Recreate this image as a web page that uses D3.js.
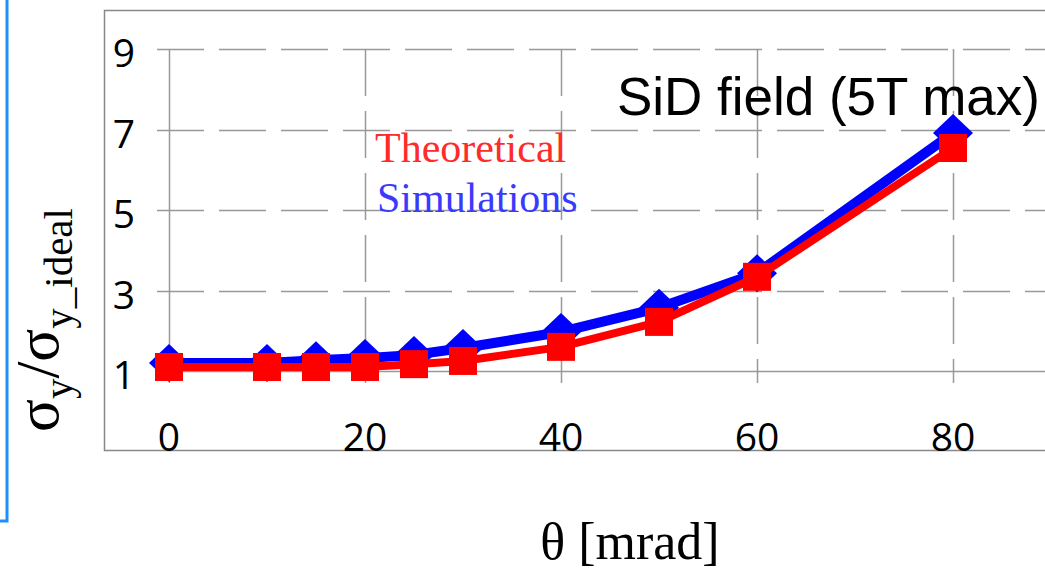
<!DOCTYPE html>
<html>
<head>
<meta charset="utf-8">
<script src="https://cdn.jsdelivr.net/npm/d3@7"></script>
<style>
  body { margin: 0; background: #fff; }
  svg { display: block; }
</style>
</head>
<body>
<div id="plot"></div>
<script>
// data
const theta = [0, 10, 15, 20, 25, 30, 40, 50, 60, 80];
const simulations = [1.2, 1.2, 1.27, 1.32, 1.4, 1.57, 1.97, 2.57, 3.43, 6.91];
const theoretical = [1.1, 1.1, 1.1, 1.1, 1.17, 1.25, 1.6, 2.22, 3.34, 6.54];
const xTicks = [0, 20, 40, 60, 80];
const yTicks = [1, 3, 5, 7, 9];

const width = 1045, height = 572;

const x = d3.scaleLinear().domain([0, 80]).range([169, 953]);
const y = d3.scaleLinear().domain([1, 9]).range([371, 49]);

const svg = d3.select("#plot").append("svg")
  .attr("width", width)
  .attr("height", height)
  .attr("viewBox", [0, 0, width, height]);

// blue slide border on the left
svg.append("path")
  .attr("d", "M7,0 V521 H0")
  .attr("fill", "none")
  .attr("stroke", "#1e8fff")
  .attr("stroke-width", 3);

// plot frame
svg.append("path")
  .attr("d", "M1046,10.5 H104.5 V450.5 H1046")
  .attr("fill", "none")
  .attr("stroke", "#888")
  .attr("stroke-width", 1.5);

const grid = svg.append("g").attr("stroke", "#999").attr("stroke-width", 1.5);

// horizontal grid lines (y = 1 is the solid axis line)
grid.selectAll(".hgrid")
  .data(yTicks)
  .join("line")
  .attr("x1", 157)
  .attr("x2", width)
  .attr("y1", d => Math.round(y(d)) + 0.5)
  .attr("y2", d => Math.round(y(d)) + 0.5)
  .attr("stroke-dasharray", d => d === 1 ? null : "47,15");

// vertical grid lines
grid.selectAll(".vgrid")
  .data(xTicks)
  .join("line")
  .attr("x1", d => Math.round(x(d)) + 0.5)
  .attr("x2", d => Math.round(x(d)) + 0.5)
  .attr("y1", y(9))
  .attr("y2", y(1))
  .attr("stroke-dasharray", d => d === 0 ? null : "47,15");

// tick marks below the axis line
grid.selectAll(".xtick")
  .data(xTicks)
  .join("line")
  .attr("x1", d => Math.round(x(d)) + 0.5)
  .attr("x2", d => Math.round(x(d)) + 0.5)
  .attr("y1", y(1))
  .attr("y2", y(1) + 12);

// tick labels
svg.append("g")
  .attr("font-family", "'Open Sans', sans-serif")
  .attr("font-size", 39)
  .attr("text-anchor", "end")
  .selectAll("text")
  .data(yTicks)
  .join("text")
  .attr("x", 135)
  .attr("y", d => y(d) + 18)
  .text(d => d);

svg.append("g")
  .attr("font-family", "'Open Sans', sans-serif")
  .attr("font-size", 39)
  .attr("text-anchor", "middle")
  .selectAll("text")
  .data(xTicks)
  .join("text")
  .attr("x", d => x(d))
  .attr("y", 451)
  .text(d => d);

// series
const line = d3.line()
  .x((d, i) => x(theta[i]))
  .y(d => y(d));

svg.append("path")
  .attr("d", line(simulations))
  .attr("fill", "none")
  .attr("stroke", "#0000ff")
  .attr("stroke-width", 10)
  .attr("stroke-linejoin", "round");

svg.append("g")
  .selectAll("path")
  .data(simulations)
  .join("path")
  .attr("transform", (d, i) => `translate(${x(theta[i])},${y(d)})`)
  .attr("d", "M0,-19 L20,0 L0,19 L-20,0 Z")
  .attr("fill", "#0000ff");

svg.append("path")
  .attr("d", line(theoretical))
  .attr("fill", "none")
  .attr("stroke", "#ff0000")
  .attr("stroke-width", 8)
  .attr("stroke-linejoin", "round");

svg.append("g")
  .selectAll("rect")
  .data(theoretical)
  .join("rect")
  .attr("x", (d, i) => x(theta[i]) - 14)
  .attr("y", d => y(d) - 14)
  .attr("width", 28)
  .attr("height", 28)
  .attr("fill", "#ff0000");

// legend text and title
svg.append("text")
  .attr("x", 375)
  .attr("y", 162)
  .attr("font-family", "'Liberation Serif', 'Times New Roman', serif")
  .attr("font-size", 42)
  .attr("fill", "#ff2a2a")
  .text("Theoretical");

svg.append("text")
  .attr("x", 377)
  .attr("y", 212)
  .attr("font-family", "'Liberation Serif', 'Times New Roman', serif")
  .attr("font-size", 42)
  .attr("fill", "#3a3aff")
  .text("Simulations");

svg.append("text")
  .attr("x", 1040)
  .attr("y", 115)
  .attr("text-anchor", "end")
  .attr("font-family", "'Liberation Sans', Arial, sans-serif")
  .attr("font-size", 53)
  .text("SiD field (5T max)");

// axis titles
svg.append("text")
  .attr("x", 630)
  .attr("y", 559)
  .attr("text-anchor", "middle")
  .attr("font-family", "'Liberation Serif', 'Times New Roman', serif")
  .attr("font-size", 52)
  .text("θ [mrad]");

const yLabel = svg.append("text")
  .attr("transform", "translate(58,432) rotate(-90)")
  .attr("font-family", "'Liberation Serif', 'Times New Roman', serif")
  .attr("font-size", 61);
yLabel.append("tspan").text("σ");
yLabel.append("tspan").attr("font-size", 41).attr("dy", 14).text("y");
yLabel.append("tspan").attr("dy", -14).text("/σ");
yLabel.append("tspan").attr("font-size", 41).attr("dy", 14).text("y_ideal");
</script>
</body>
</html>
